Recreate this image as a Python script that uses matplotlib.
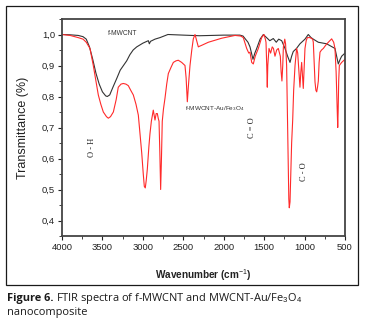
import matplotlib
matplotlib.use("Agg")
import matplotlib.pyplot as plt
from matplotlib.patches import Rectangle
from matplotlib.ticker import MultipleLocator, FuncFormatter

# f-MWCNT spectrum (wavenumber, transmittance)
wn_black = [4000, 3900, 3800, 3740, 3700, 3660, 3620, 3580, 3540, 3500, 3460, 3440,
            3410, 3370, 3320, 3280, 3240, 3200, 3160, 3120, 3076, 3000, 2950, 2932,
            2920, 2905, 2850, 2788, 2690, 2500, 2300, 2000, 1800, 1761, 1700, 1675,
            1638, 1615, 1592, 1550, 1510, 1470, 1430, 1387, 1350, 1320, 1283, 1242,
            1210, 1180, 1160, 1140, 1100, 1057, 995, 954, 920, 892, 830, 727, 624,
            583, 560, 541, 500]
t_black = [1.0, 0.999, 0.997, 0.993, 0.985, 0.96, 0.92, 0.875, 0.84, 0.815, 0.802, 0.800,
           0.805, 0.83, 0.86, 0.885, 0.90, 0.915, 0.935, 0.95, 0.96, 0.972, 0.978, 0.98,
           0.97, 0.978, 0.985, 0.99, 1.0, 0.998, 0.996, 0.998, 0.998, 0.995, 0.975, 0.96,
           0.92, 0.94, 0.955, 0.985, 1.0, 0.99, 0.98, 0.987, 0.975, 0.985, 0.98, 0.955,
           0.93, 0.91, 0.93, 0.945, 0.955, 0.97, 0.985, 1.0, 0.99, 0.985, 0.975, 0.97, 0.955,
           0.905, 0.92, 0.93, 0.94]

# MWCNT-Au/Fe3O4 spectrum
wn_red = [4000, 3900, 3800, 3740, 3700, 3654, 3613, 3580, 3551, 3520, 3489, 3450, 3427,
          3400, 3365, 3330, 3304, 3270, 3242, 3210, 3180, 3150, 3118, 3085, 3056, 3035,
          3014, 2995, 2982, 2970, 2958, 2945, 2925, 2912, 2895, 2871, 2860, 2850, 2835,
          2821, 2810, 2800, 2790, 2780, 2770, 2760, 2745, 2726, 2705, 2685, 2650, 2623,
          2590, 2562, 2520, 2479, 2465, 2450, 2435, 2417, 2395, 2376, 2355, 2340, 2335,
          2314, 2300, 2273, 2190, 2100, 2025, 1900, 1860, 1790, 1758, 1740, 1716, 1690,
          1675, 1654, 1634, 1610, 1572, 1531, 1502, 1485, 1477, 1468, 1461, 1455, 1440,
          1420, 1400, 1385, 1366, 1345, 1325, 1300, 1290, 1280, 1270, 1262, 1245, 1235,
          1222, 1210, 1195, 1189, 1180, 1170, 1160, 1147, 1135, 1118, 1098, 1085, 1070,
          1057, 1046, 1036, 1026, 1016, 1005, 995, 980, 966, 933, 900, 892, 880, 871,
          860, 850, 840, 830, 820, 809, 790, 768, 740, 706, 665, 640, 624, 610, 603, 595,
          590, 585, 578, 570, 541, 500]
t_red = [1.0, 0.997, 0.99, 0.985, 0.975, 0.955, 0.90, 0.85, 0.805, 0.775, 0.75, 0.735, 0.73,
         0.735, 0.75, 0.79, 0.83, 0.84, 0.842, 0.84, 0.835, 0.82, 0.805, 0.775, 0.74, 0.68,
         0.618, 0.55, 0.51, 0.505, 0.53, 0.565, 0.64, 0.68, 0.72, 0.756, 0.74, 0.724, 0.745,
         0.745, 0.73, 0.72, 0.62, 0.50, 0.60, 0.72, 0.76, 0.795, 0.84, 0.874, 0.895, 0.91,
         0.915, 0.917, 0.91, 0.90, 0.86, 0.783, 0.84, 0.90, 0.95, 0.986, 1.0, 0.985, 0.98,
         0.96, 0.962, 0.965, 0.975, 0.982, 0.988, 0.995, 0.997, 0.995, 0.99, 0.975, 0.955, 0.94,
         0.943, 0.91, 0.905, 0.93, 0.955, 0.99, 1.0, 0.985, 0.975, 0.90, 0.83, 0.90, 0.955,
         0.94, 0.96, 0.955, 0.93, 0.95, 0.955, 0.93, 0.88, 0.85, 0.90, 0.96, 0.985, 0.97,
         0.90, 0.70, 0.47, 0.441, 0.46, 0.55, 0.65, 0.724, 0.82, 0.90, 0.955, 0.94, 0.88,
         0.83, 0.88, 0.91, 0.87, 0.826, 0.89, 0.955, 0.98, 0.99, 0.99, 0.985, 0.975, 0.90, 0.847,
         0.82, 0.815, 0.83, 0.85, 0.91, 0.943, 0.95, 0.955, 0.965, 0.975, 0.986, 0.975, 0.955, 0.88, 0.815, 0.74,
         0.70, 0.75, 0.85, 0.90, 0.91, 0.92]

x_ticks = [4000, 3500, 3000, 2500, 2000, 1500, 1000, 500]
y_ticks = [0.4, 0.5, 0.6, 0.7, 0.8, 0.9, 1.0]

label_black = "f-MWCNT"
label_red = "f-MWCNT-Au/Fe$_3$O$_4$"

plt.rcParams['font.family'] = ['Liberation Sans', 'DejaVu Sans']
plt.rcParams['mathtext.fontset'] = 'custom'
plt.rcParams['mathtext.rm'] = 'Liberation Sans'
plt.rcParams['mathtext.it'] = 'Liberation Sans:italic'
plt.rcParams['mathtext.bf'] = 'Liberation Sans:bold'

fig = plt.figure(figsize=(3.69, 3.26), dpi=100)
fig.patch.set_facecolor('white')

# outer frame
fig.patches.append(Rectangle((6/369, 1-285/326), 352/369, 279/326, transform=fig.transFigure,
                             fill=False, edgecolor='#1a1a1a', linewidth=0.9))

ax = fig.add_axes([62/369, 1-236/326, 283/369, 217/326])
ax.plot(wn_black, t_black, color='#333333', linewidth=0.8)
ax.plot(wn_red, t_red, color='#ff2a2a', linewidth=0.8)

ax.set_xlim(4000, 500)
ax.set_ylim(0.35, 1.05)
ax.set_xticks(x_ticks)
ax.set_yticks(y_ticks)
ax.xaxis.set_minor_locator(MultipleLocator(250))
ax.yaxis.set_minor_locator(MultipleLocator(0.05))
ax.yaxis.set_major_formatter(FuncFormatter(lambda v, p: f"{v:.1f}".replace('.', ',')))
ax.tick_params(axis='both', which='major', labelsize=6.8, length=3, width=0.8, pad=2,
               colors='#222222')
ax.tick_params(axis='both', which='minor', length=2, width=0.6, colors='#222222')
for s in ax.spines.values():
    s.set_linewidth(1.3)
    s.set_color('#444444')

ax.set_ylabel("Transmittance (%)", fontsize=9, labelpad=9, color='#222222')
ax.set_xlabel("Wavenumber (cm$^{-1}$)", fontsize=7.2, fontweight='bold', labelpad=11,
              color='#222222')

ax.text(3245, 1.002, label_black, fontsize=4.8, color='#333333', ha='center', va='center')
ax.text(2479, 0.76, label_red, fontsize=4.6, color='#333333', ha='left', va='center')
ax.text(3629, 0.635, "O - H", fontsize=6, family='Liberation Serif', rotation=90,
        ha='center', va='center', color='#222222')
ax.text(1654, 0.70, "C = O", fontsize=6, family='Liberation Serif', rotation=90,
        ha='center', va='center', color='#222222')
ax.text(1005, 0.558, "C - O", fontsize=6, family='Liberation Serif', rotation=90,
        ha='center', va='center', color='#222222')

cap_size = 7.9
cap_y = 1 - 298/326
t1 = fig.text(7/369, cap_y, "Figure 6.", fontsize=cap_size, fontweight='bold', va='center',
              ha='left', family='Open Sans', color='#1a1a1a')
fig.canvas.draw()
bb = t1.get_window_extent(renderer=fig.canvas.get_renderer())
x2 = (bb.x1 + 3) / fig.bbox.width
fig.text(x2, cap_y, "FTIR spectra of f-MWCNT and MWCNT-Au/Fe$_3$O$_4$", fontsize=cap_size,
         va='center', ha='left', family='Open Sans', color='#1a1a1a')
fig.text(7/369, 1 - 313/326, "nanocomposite", fontsize=cap_size, va='center', ha='left',
         family='Open Sans', color='#1a1a1a')

fig.savefig("out.png", dpi=100)
